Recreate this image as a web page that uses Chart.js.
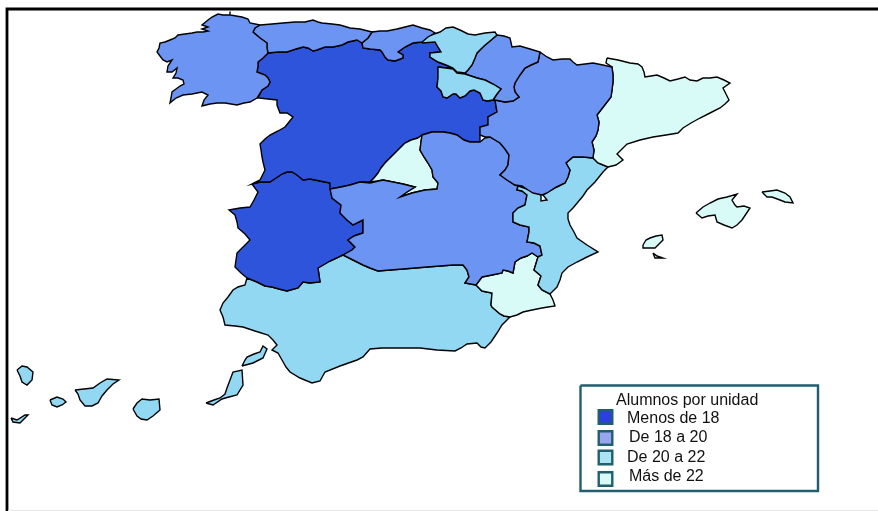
<!DOCTYPE html>
<html><head><meta charset="utf-8">
<style>html,body{margin:0;padding:0;background:#fff}canvas{display:block}</style>
<script src="https://cdn.jsdelivr.net/npm/chart.js@4"></script></head>
<body><canvas id="c" width="878" height="511"></canvas>
<script>
const legendTitle = "Alumnos por unidad";
const legendLabels = ["Menos de 18","De 18 a 20","De 20 a 22","Más de 22"];
const mapColors = ["#2e54dc","#6c94f2","#92d8f2","#d9fbf8"];
const swatchColors = ["#2c3fe0","#9aa5f0","#abe3f1","#d9fbf8"];

const galicia=[[260,25],[250,23],[248,19],[242,17],[236,16],[230,15],[230,11.5],[230,15],[223,15],[218,14],[212,17],[208,20],[202,25],[208,27],[202,29],[208,31],[203,32],[197,32],[192,33],[185,34],[178,35],[175,38],[170,40],[165,42],[160,43],[159,48],[157,52],[160,56],[163,60],[167,62],[172,60],[168,66],[167,72],[172,72],[177,68],[176,73],[173,78],[178,78],[183,80],[184,84],[180,86],[176,89],[172,92],[171,98],[170,103],[176,98],[183,95],[192,94],[202,92],[208,95],[204,100],[202,106],[210,104],[217,103],[225,103],[237,105],[244,103],[250,102],[257,98],[262,90],[268,86],[270,82],[268,78],[265,75],[257,72],[258,66],[258,62],[263,58],[268,53],[267,48],[267,43],[260,38],[253,32],[255,28]];
const asturias=[[260,25],[272,24],[283,23],[295,22],[305,22],[313,20],[318,22],[322,23],[332,24],[340,25],[350,28],[360,29],[372,32],[368,38],[362,43],[357,40],[348,42],[342,45],[333,47],[325,47],[317,50],[313,51],[308,48],[303,47],[296,49],[287,52],[278,52],[268,53],[267,48],[267,43],[260,38],[253,32],[255,28]];
const cantabria=[[372,32],[380,31],[387,31],[397,29],[405,27],[413,25],[422,28],[430,30],[435,33],[428,37],[422,42],[413,43],[405,47],[398,52],[403,55],[403,58],[395,61],[388,60],[385,57],[382,52],[380,50],[370,49],[363,48],[362,43],[368,38]];
const paisVasco=[[422,43],[423,37],[431,35],[440,32],[446,28],[453,27],[460,30],[468,34],[475,35],[485,33],[495,32],[497,35],[490,41],[484,46],[477,53],[475,58],[472,65],[468,70],[465,73],[457,72],[453,68],[446,65],[438,62],[430,57],[430,53],[441,52],[438,47],[435,42]];
const laRioja=[[438,67],[446,68],[453,69],[457,73],[465,74],[468,75],[477,78],[485,80],[493,84],[501,89],[497,94],[493,100],[487,101],[483,100],[480,93],[474,90],[470,91],[465,96],[460,98],[456,94],[453,94],[447,98],[443,97],[441,91],[437,87],[438,78]];
const navarra=[[497,35],[504,36],[510,38],[512,47],[520,46],[530,49],[540,52],[539,57],[538,62],[531,65],[525,68],[520,75],[515,83],[514,87],[515,92],[519,97],[513,101],[505,102],[495,100],[493,100],[497,94],[501,89],[493,84],[485,80],[477,78],[468,75],[465,73],[468,70],[472,65],[475,58],[477,53],[484,46],[490,41]];
const aragon=[[540,52],[547,57],[553,60],[562,59],[570,59],[573,62],[577,65],[585,64],[593,63],[603,65],[612,67],[613,75],[613,82],[612,90],[611,97],[604,106],[597,115],[599,122],[598,130],[596,136],[592,142],[594,150],[593,158],[583,157],[573,157],[566,163],[570,170],[568,177],[565,183],[556,187],[547,193],[542,195],[533,193],[528,190],[522,186],[515,185],[507,180],[500,175],[505,170],[508,165],[509,155],[505,149],[500,143],[495,140],[490,137],[485,137],[480,135],[480,127],[488,125],[488,117],[497,112],[495,100],[505,102],[513,101],[519,97],[515,92],[514,87],[515,83],[520,75],[525,68],[531,65],[538,62],[539,57]];
const cataluna=[[607,58],[618,60],[630,63],[638,64],[642,67],[644,72],[645,77],[651,76],[657,75],[664,78],[670,81],[678,79],[685,77],[690,80],[697,81],[703,78],[710,78],[717,77],[724,80],[730,83],[723,88],[726,94],[729,100],[725,104],[720,108],[710,113],[700,118],[691,123],[683,128],[678,133],[666,135],[653,137],[640,140],[627,144],[622,149],[617,154],[623,160],[616,165],[608,167],[598,163],[593,158],[594,150],[592,142],[596,136],[598,130],[599,122],[597,115],[604,106],[611,97],[612,90],[613,82],[613,75],[612,67],[606,63]];
const valencia=[[593,158],[598,163],[608,167],[603,172],[595,182],[587,190],[583,196],[578,202],[573,208],[568,213],[568,219],[570,225],[574,232],[577,238],[587,245],[598,252],[587,257],[577,262],[568,267],[562,273],[560,280],[557,287],[550,294],[542,290],[538,285],[541,276],[534,270],[538,257],[542,255],[540,246],[534,243],[527,242],[529,232],[529,227],[520,225],[513,222],[513,213],[518,208],[525,205],[527,195],[522,191],[517,190],[518,186],[524,188],[530,190],[541,195],[541,201],[547,200],[543,195],[550,191],[557,187],[565,183],[568,177],[570,170],[566,163],[573,157],[583,157]];
const murcia=[[476,285],[482,277],[492,275],[502,273],[503,270],[508,271],[513,273],[515,262],[521,258],[527,256],[532,253],[538,257],[534,270],[541,276],[538,285],[542,290],[550,294],[553,300],[555,306],[548,307],[542,308],[532,310],[523,312],[517,315],[510,317],[504,316],[500,314],[492,307],[491,305],[492,293],[482,291]];
const castillaMancha=[[422,135],[432,132],[443,132],[450,133],[457,135],[464,140],[470,142],[480,142],[485,138],[490,137],[495,140],[500,143],[505,149],[509,155],[508,165],[505,170],[500,175],[507,180],[515,185],[518,186],[517,190],[522,191],[527,195],[525,205],[518,208],[513,213],[513,222],[520,225],[529,227],[529,232],[527,242],[534,243],[540,246],[542,255],[538,257],[532,253],[527,256],[521,258],[515,262],[513,273],[508,271],[503,270],[502,273],[492,275],[482,277],[476,285],[465,283],[469,277],[467,270],[463,265],[453,265],[440,266],[427,267],[415,268],[403,269],[390,270],[378,271],[370,268],[363,265],[353,260],[343,255],[352,250],[355,247],[348,240],[354,236],[363,233],[363,220],[353,225],[347,220],[340,213],[341,205],[332,198],[330,189],[341,187],[350,185],[360,182],[370,183],[383,180],[393,182],[403,184],[415,187],[407,192],[400,197],[412,193],[425,190],[437,189],[438,183],[433,177],[432,170],[428,163],[424,157],[420,150],[421,142]];
const madrid=[[418,138],[411,140],[405,143],[400,148],[395,153],[390,158],[385,163],[381,168],[378,173],[374,178],[370,182],[377,181],[383,180],[393,182],[403,184],[415,187],[407,192],[400,197],[412,193],[425,190],[437,189],[438,183],[433,177],[432,170],[428,163],[424,157],[420,150],[421,142],[422,135]];
const castillaLeon=[[268,53],[278,52],[287,52],[296,49],[303,47],[308,48],[313,51],[317,50],[325,47],[333,47],[342,45],[348,42],[357,40],[362,43],[363,48],[370,49],[380,50],[382,52],[385,57],[388,60],[395,61],[403,58],[403,55],[398,52],[405,47],[413,43],[422,42],[435,42],[438,47],[441,52],[430,53],[430,57],[438,62],[446,65],[453,68],[446,68],[438,67],[438,78],[437,87],[441,91],[443,97],[447,98],[453,94],[456,94],[460,98],[465,96],[470,91],[474,90],[480,93],[483,100],[487,101],[495,100],[497,112],[488,117],[488,125],[480,127],[480,135],[480,142],[470,142],[464,140],[457,135],[450,133],[443,132],[432,132],[422,135],[418,138],[411,140],[405,143],[400,148],[395,153],[390,158],[385,163],[381,168],[378,173],[374,178],[370,182],[360,182],[350,185],[341,187],[330,189],[330,183],[320,181],[310,179],[303,180],[297,175],[292,172],[287,172],[282,174],[276,178],[270,182],[260,182],[252,184],[260,180],[265,170],[263,162],[262,157],[261,150],[260,144],[265,139],[270,135],[278,131],[285,127],[289,122],[293,117],[287,113],[280,113],[277,105],[277,100],[268,99],[258,98],[262,90],[268,86],[270,82],[268,78],[265,75],[257,72],[258,66],[258,62],[263,58]];
const extremadura=[[252,184],[260,182],[270,182],[276,178],[282,174],[287,172],[292,172],[297,175],[303,180],[310,179],[320,181],[330,183],[331,191],[332,198],[341,205],[340,213],[347,220],[353,225],[363,220],[363,233],[354,236],[348,240],[355,247],[352,250],[343,255],[330,261],[318,268],[319,275],[320,282],[310,283],[303,282],[298,288],[287,291],[279,289],[272,287],[265,286],[257,282],[247,278],[241,273],[235,267],[236,260],[237,253],[243,247],[250,240],[245,234],[238,228],[237,222],[235,215],[229,210],[240,208],[250,207],[254,200],[258,192]];
const andalucia=[[247,278],[245,285],[238,287],[233,290],[228,297],[223,303],[220,310],[223,317],[225,325],[235,326],[243,327],[255,331],[268,335],[273,340],[277,345],[272,350],[278,353],[282,360],[286,367],[290,372],[300,378],[312,383],[320,381],[325,372],[340,366],[357,360],[363,357],[370,349],[382,348],[395,348],[420,348],[437,350],[455,351],[461,348],[467,344],[477,343],[481,347],[485,348],[491,342],[497,333],[502,325],[510,317],[504,316],[500,314],[492,307],[491,305],[492,293],[482,291],[476,285],[465,283],[469,277],[467,270],[463,265],[453,265],[440,266],[427,267],[415,268],[403,269],[390,270],[378,271],[370,268],[363,265],[353,260],[343,255],[330,261],[318,268],[319,275],[320,282],[310,283],[303,282],[298,288],[287,291],[279,289],[272,287],[265,286],[257,282]];
const laPalma=[[17,370],[22,366],[27,367],[33,372],[32,380],[27,385],[22,382],[20,376]];
const elHierro=[[11,418],[17,420],[25,415],[28,415],[24,419],[20,423],[13,422]];
const laGomera=[[50,400],[57,397],[63,399],[66,402],[62,405],[57,407],[52,405]];
const tenerife=[[75,390],[84,389],[93,388],[100,383],[107,379],[119,380],[113,384],[107,390],[102,396],[98,403],[92,406],[85,406],[80,400],[78,394]];
const granCanaria=[[133,409],[137,403],[142,399],[150,400],[159,399],[160,410],[153,416],[147,420],[141,419],[137,416]];
const fuerteventura=[[206,403],[214,400],[220,398],[225,394],[227,388],[230,380],[233,372],[242,370],[243,385],[237,395],[229,397],[222,399],[213,405]];
const lanzarote=[[242,366],[245,360],[247,357],[254,354],[260,352],[263,346],[267,349],[263,358],[253,363]];
const mallorca=[[696,213],[703,207],[710,203],[718,199],[727,197],[737,194],[732,200],[735,205],[737,207],[744,206],[750,208],[746,214],[742,220],[737,225],[732,228],[724,225],[717,222],[715,215],[708,216],[702,218]];
const menorca=[[762,192],[770,191],[777,190],[785,193],[790,197],[793,203],[785,202],[780,200],[772,197],[767,197]];
const ibiza=[[643,245],[646,240],[650,238],[656,236],[662,235],[663,240],[659,244],[655,248],[648,248],[643,248]];
const formentera=[[653,253],[657,256],[663,258],[655,258]];
const frameLine=[[7,511],[7,9],[878,9]];
const bottomRule=[[8,510.5],[878,510.5]];
const legendFrame=[[580.5,385.5],[818,385.5],[818,491],[580.5,491],[580.5,385.5]];
const swatchX=[605.5,605.5,605.5,605.5];
const swatchY=[417,438,457.5,479];
const legendTextX=[627,629,627,629];
const legendTextY=[418.5,437.5,457.5,476.5];

const regions=[[galicia,1],[asturias,1],[cantabria,1],[paisVasco,2],[laRioja,2],[navarra,1],[aragon,1],[cataluna,3],[valencia,2],[castillaMancha,1],[madrid,3],[murcia,3],[castillaLeon,0],[extremadura,0],[andalucia,2],[laPalma,2],[elHierro,2],[laGomera,2],[tenerife,2],[granCanaria,2],[fuerteventura,2],[lanzarote,2],[mallorca,3],[menorca,3],[ibiza,3],[formentera,3]];
const toPts=a=>a.map(p=>({x:p[0],y:p[1]}));
const datasets=regions.map(([r,k])=>({
  type:'line',data:toPts(r.concat([r[0]])),parsing:false,borderColor:'#000',borderWidth:1.4,
  areaFill:mapColors[k],pointRadius:0,tension:0,fill:false,borderJoinStyle:'miter',clip:false
}));
datasets.push({type:'line',data:toPts(bottomRule),borderColor:'#e8e8e8',borderWidth:1,pointRadius:0,fill:false,clip:false});
datasets.push({type:'line',data:toPts(frameLine),borderColor:'#000',borderWidth:2.8,pointRadius:0,fill:false,clip:false});
datasets.push({type:'line',data:toPts(legendFrame),borderColor:'#215f70',borderWidth:2.4,pointRadius:0,fill:false,clip:false});
swatchColors.forEach((c,i)=>datasets.push({type:'scatter',showLine:false,data:[{x:swatchX[i],y:swatchY[i]}],pointStyle:'rect',pointRadius:9.6,pointBorderWidth:2.4,pointBorderColor:'#215f70',pointBackgroundColor:c}));

const polygonFill={id:'polygonFill',beforeDatasetDraw(chart,args){
  const ds=chart.data.datasets[args.index];
  if(!ds.areaFill)return;
  const ctx=chart.ctx,line=args.meta.dataset;
  ctx.save();ctx.beginPath();line.path(ctx);ctx.closePath();ctx.fillStyle=ds.areaFill;ctx.fill();ctx.restore();
}};
const legendText={id:'legendText',afterDatasetsDraw(chart){
  const {ctx,scales:{x,y}}=chart;
  ctx.save();ctx.fillStyle='#111';ctx.textBaseline='middle';ctx.textAlign='left';
  ctx.font='16px "Liberation Sans"';
  ctx.fillText(legendTitle,x.getPixelForValue(616),y.getPixelForValue(401));
  legendLabels.forEach((t,i)=>ctx.fillText(t,x.getPixelForValue(legendTextX[i]),y.getPixelForValue(legendTextY[i])));
  ctx.restore();
}};
new Chart(document.getElementById('c'),{
  type:'scatter',data:{datasets},plugins:[polygonFill,legendText],
  options:{responsive:false,animation:false,events:[],layout:{padding:0,autoPadding:false},
    plugins:{legend:{display:false},tooltip:{enabled:false},title:{display:false}},
    scales:{x:{type:'linear',min:0,max:878,display:false},y:{type:'linear',min:0,max:511,reverse:true,display:false}}}
});
</script></body></html>
